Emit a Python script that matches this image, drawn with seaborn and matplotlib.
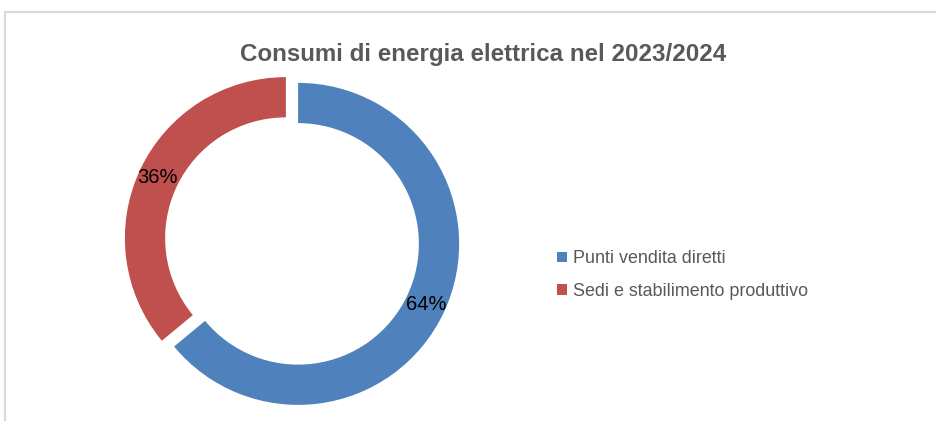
import matplotlib
matplotlib.use("Agg")
import matplotlib.pyplot as plt
from matplotlib.lines import Line2D
from matplotlib.patches import Patch
import seaborn as sns

# dati
categorie = ["Punti vendita diretti", "Sedi e stabilimento produttivo"]
valori = [64, 36]
titolo = "Consumi di energia elettrica nel 2023/2024"

sns.set_theme(style="white")
plt.rcParams['font.family'] = ['Liberation Sans', 'DejaVu Sans']

colori = ["#4F81BD", "#C0504D"]

W, H = 936, 421
fig = plt.figure(figsize=(W / 100, H / 100), dpi=100)
fig.patch.set_facecolor("white")

# cornice (solo bordo superiore e sinistro visibili)
fig.add_artist(Line2D([5 / W, 1.0], [1 - 11.5 / H, 1 - 11.5 / H], color="#d9d9d9", lw=1.5))
fig.add_artist(Line2D([5 / W, 5 / W], [0, 1 - 11.5 / H], color="#d9d9d9", lw=1.5))

# asse della ciambella: centro (292, 241), raggio 161 px
cx, cy, R = 292, 241, 161
half = 175
ax = fig.add_axes([(cx - half) / W, (H - cy - half) / H, 2 * half / W, 2 * half / H])
lim = half / R

wedges, testi, pct = ax.pie(
    valori,
    colors=colori,
    startangle=90,
    counterclock=False,
    explode=[0.042, 0.042],
    radius=1,
    autopct=lambda p: f"{p:.0f}%",
    pctdistance=0.88,
    wedgeprops=dict(width=0.25, edgecolor="none"),
    textprops=dict(fontsize=14.5, color="black"),
)
ax.set_xlim(-lim, lim)
ax.set_ylim(-lim, lim)
ax.set_aspect("equal")
ax.axis("off")

fig.text(483 / W, 1 - 61 / H, titolo, ha="center", va="baseline",
         fontsize=17.4, fontweight="bold", color="#595959")

handles = [Patch(facecolor=c, edgecolor="none") for c in colori]
fig.legend(handles, categorie, loc="center left",
           bbox_to_anchor=(541 / W, 1 - 275 / H), frameon=False,
           fontsize=12.9, labelcolor="#595959",
           handlelength=0.55, handleheight=0.55, handletextpad=0.35,
           labelspacing=0.85)

fig.savefig("out.png", dpi=100, facecolor="white")
